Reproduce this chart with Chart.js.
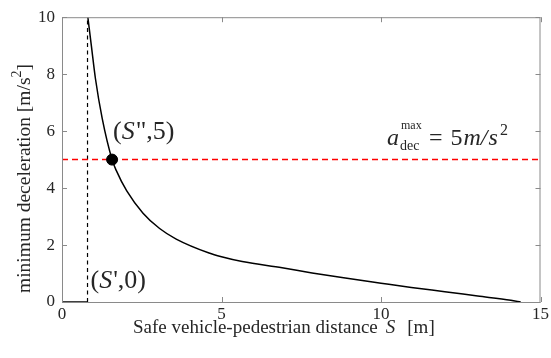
<!DOCTYPE html>
<html>
<head>
<meta charset="utf-8">
<script src="https://cdn.jsdelivr.net/npm/chart.js@4.4.1/dist/chart.umd.min.js"></script>
<style>
  html, body { margin: 0; padding: 0; background: #fff; }
  #wrap { width: 551px; height: 358px; }
</style>
</head>
<body>
<div id="wrap"><canvas id="chart"></canvas></div>
<script>
// Values
const sPrime = 0.8;           // S'
const sDouble = 1.57;         // S''
const aMax = 5;               // max deceleration
const curveS = [0.81, 0.92, 1.05, 1.26, 1.57, 1.70, 2.03, 2.54, 3.06, 3.58, 4.61, 5.0, 5.65, 6.9, 7.84, 8.88, 10.0, 10.95, 12.0, 13.03, 14.07, 14.38];
const curveA = [10, 9.0, 7.83, 6.45, 5.0, 4.62, 3.9, 3.12, 2.58, 2.21, 1.72, 1.59, 1.42, 1.20, 1.02, 0.84, 0.66, 0.51, 0.36, 0.21, 0.06, 0];
const flatS = [0, sPrime];
const flatA = [0, 0];
const xTicks = [0, 5, 10, 15];
const yTicks = [0, 2, 4, 6, 8, 10];

const SERIF = "'Liberation Serif', 'Times New Roman', serif";
const TEXT = '#262626';
const AXIS = '#8a8a8a';

const toXY = (xs, ys) => xs.map((x, i) => ({ x: x, y: ys[i] }));

// draw a row of text pieces with their own fonts
function drawRuns(ctx, x, y, runs) {
    runs.forEach(r => {
        ctx.font = r.font;
        ctx.fillText(r.t, x + (r.dx || 0), y + (r.dy || 0));
        x += ctx.measureText(r.t).width + (r.dx || 0);
    });
}

const boxPlugin = {
    id: 'box',
    afterDatasetsDraw(chart) {
        const { ctx, chartArea: a, scales: { x, y } } = chart;
        ctx.save();
        ctx.strokeStyle = AXIS;
        ctx.lineWidth = 1;
        ctx.strokeRect(a.left + 0.5, a.top + 0.5, a.right - a.left - 1, a.bottom - a.top);
        // inward ticks
        ctx.beginPath();
        xTicks.forEach(v => {
            const px = Math.round(x.getPixelForValue(v)) + 0.5;
            ctx.moveTo(px, a.bottom); ctx.lineTo(px, a.bottom - 5);
            ctx.moveTo(px, a.top); ctx.lineTo(px, a.top + 5);
        });
        yTicks.forEach(v => {
            const py = Math.round(y.getPixelForValue(v)) + 0.5;
            ctx.moveTo(a.left, py); ctx.lineTo(a.left + 5, py);
            ctx.moveTo(a.right, py); ctx.lineTo(a.right - 5, py);
        });
        ctx.stroke();
        ctx.restore();
    },
    afterDraw(chart) {
        const { ctx, scales: { x, y } } = chart;
        ctx.save();
        ctx.fillStyle = TEXT;
        ctx.textBaseline = 'alphabetic';
        ctx.textAlign = 'left';

        // x axis title
        const big = '19px ' + SERIF;
        drawRuns(ctx, 133, 333, [
            { t: 'Safe vehicle-pedestrian distance', font: big },
            { t: 'S', font: 'italic ' + big, dx: 8 },
            { t: '[m]', font: big, dx: 12 }
        ]);

        // y axis title
        ctx.save();
        ctx.translate(30, 293);
        ctx.rotate(-Math.PI / 2);
        const yf = '19.5px ' + SERIF;
        drawRuns(ctx, 0, 0, [
            { t: 'minimum deceleration [m/s', font: yf },
            { t: '2', font: '14px ' + SERIF, dy: -9 },
            { t: ']', font: yf }
        ]);
        ctx.restore();

        // point labels
        const f26 = '26px ' + SERIF;
        const fi26 = 'italic 26px ' + SERIF;
        const redY = y.getPixelForValue(aMax);
        drawRuns(ctx, x.getPixelForValue(sDouble) + 1, redY - 21, [
            { t: '(', font: f26 }, { t: 'S', font: fi26 }, { t: '"', font: f26, dx: 1 },
            { t: ',5)', font: f26 }
        ]);
        drawRuns(ctx, x.getPixelForValue(sPrime) + 3, y.getPixelForValue(0) - 14, [
            { t: '(', font: f26 }, { t: 'S', font: fi26 }, { t: "'", font: f26, dx: 1 },
            { t: ',0)', font: f26 }
        ]);

        // a_dec^max = 5 m/s^2
        const ex = x.getPixelForValue(10) + 6;
        const f24 = '24px ' + SERIF;
        const fi24 = 'italic 24px ' + SERIF;
        ctx.font = fi24;
        ctx.fillText('a', ex, redY - 15);
        ctx.font = '12px ' + SERIF;
        ctx.fillText('max', ex + 14, redY - 31);
        ctx.font = '14px ' + SERIF;
        ctx.fillText('dec', ex + 13, redY - 10);
        drawRuns(ctx, ex + 42, redY - 15, [
            { t: '=', font: f24 },
            { t: '5', font: f24, dx: 8 },
            { t: 'm', font: fi24, dx: 1 },
            { t: '/', font: fi24 },
            { t: 's', font: fi24, dx: 1 }
        ]);
        ctx.font = '16px ' + SERIF;
        ctx.fillText('2', ex + 113, redY - 25);
        ctx.restore();
    }
};

new Chart(document.getElementById('chart'), {
    type: 'scatter',
    data: {
        datasets: [
            {
                label: "S''",
                data: [{ x: sDouble, y: aMax }],
                backgroundColor: '#000',
                borderColor: '#000',
                pointRadius: 5.5
            },
            {
                label: 'min deceleration',
                data: toXY(curveS, curveA),
                showLine: true,
                borderColor: '#000',
                borderWidth: 1.5,
                cubicInterpolationMode: 'monotone',
                pointRadius: 0
            },
            {
                label: 'limit',
                data: toXY([0, 15], [aMax, aMax]),
                showLine: true,
                borderColor: '#ff0000',
                borderWidth: 1.5,
                borderDash: [6, 4],
                pointRadius: 0
            },
            {
                label: "S'",
                data: toXY([sPrime, sPrime], [0, 10]),
                showLine: true,
                borderColor: '#000',
                borderWidth: 1.2,
                borderDash: [4, 3.5],
                pointRadius: 0
            },
            {
                label: 'flat',
                data: toXY(flatS, flatA),
                showLine: true,
                borderColor: '#000',
                borderWidth: 1.5,
                pointRadius: 0
            }
        ]
    },
    options: {
        responsive: true,
        maintainAspectRatio: false,
        animation: false,
        layout: { padding: { top: 14, right: 9, left: 0, bottom: 0 } },
        plugins: {
            legend: { display: false },
            tooltip: { enabled: false }
        },
        scales: {
            x: {
                type: 'linear',
                min: 0, max: 15,
                afterFit: s => { s.height = 56; },
                afterBuildTicks: s => { s.ticks = xTicks.map(v => ({ value: v })); },
                grid: { display: false, drawTicks: false },
                border: { display: false },
                ticks: { color: TEXT, padding: 2, maxRotation: 0, font: { family: SERIF, size: 17 } }
            },
            y: {
                type: 'linear',
                min: 0, max: 10,
                afterFit: s => { s.width = 62; },
                afterBuildTicks: s => { s.ticks = yTicks.map(v => ({ value: v })); },
                grid: { display: false, drawTicks: false },
                border: { display: false },
                ticks: { color: TEXT, padding: 7, font: { family: SERIF, size: 17 } }
            }
        }
    },
    plugins: [boxPlugin]
});
</script>
</body>
</html>
